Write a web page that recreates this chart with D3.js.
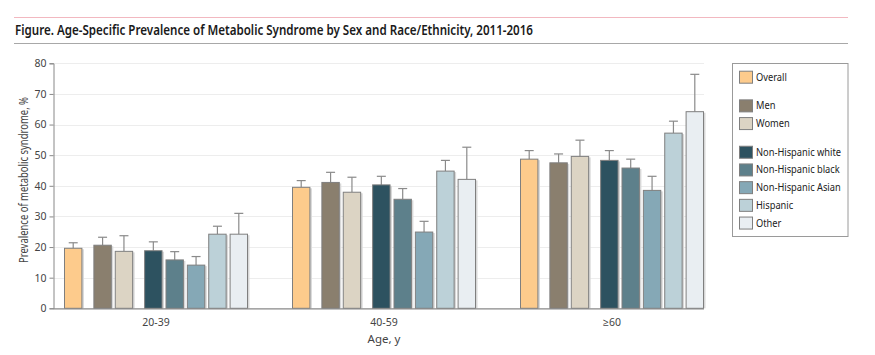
<!DOCTYPE html>
<html><head><meta charset="utf-8">
<script src="https://cdn.jsdelivr.net/npm/d3@7"></script>
<style>body{margin:0;background:#fff;} svg{display:block;}</style>
</head><body>
<script>
const groups = ["20-39", "40-59", "≥60"];
const series = ["Overall", "Men", "Women", "Non-Hispanic white", "Non-Hispanic black", "Non-Hispanic Asian", "Hispanic", "Other"];
const colors = ["#FDCB8C", "#8A7F6E", "#DCD4C4", "#2D5260", "#5D808B", "#85A8B6", "#BCD1D8", "#E9EEF2"];
// slot positions within group (extra gaps between subgroups)
const slots = [0, 1.375, 2.375, 3.75, 4.75, 5.75, 6.75, 7.75];
const legendSlots = [0, 1.62, 2.62, 4.24, 5.24, 6.24, 7.24, 8.24];
const values = {
  "20-39": [19.6, 20.6, 18.6, 18.8, 15.8, 14.1, 24.2, 24.2],
  "40-59": [39.5, 41.1, 37.9, 40.3, 35.6, 24.9, 44.8, 42.1],
  "≥60":   [48.7, 47.5, 49.6, 48.3, 45.8, 38.5, 57.2, 64.2]
};
const upper = {
  "20-39": [21.4, 23.2, 23.7, 21.7, 18.5, 16.9, 26.8, 31.0],
  "40-59": [41.7, 44.4, 42.8, 43.1, 39.1, 28.4, 48.3, 52.6],
  "≥60":   [51.5, 50.4, 54.9, 51.5, 48.7, 43.1, 61.1, 76.4]
};
const yTicks = [0, 10, 20, 30, 40, 50, 60, 70, 80];
const title = "Figure. Age-Specific Prevalence of Metabolic Syndrome by Sex and Race/Ethnicity, 2011-2016";
const yLabel = "Prevalence of metabolic syndrome, %";
const xLabel = "Age, y";

const W = 875, H = 355;
const font = "'Noto Sans', 'Open Sans', sans-serif";
const svg = d3.select("body").append("svg").attr("width", W).attr("height", H);

function condense(sel, factor) {
  sel.each(function() {
    const w = this.getComputedTextLength();
    d3.select(this).attr("textLength", w * factor).attr("lengthAdjust", "spacingAndGlyphs");
  });
}

// header
svg.append("line").attr("x1", 14).attr("x2", 848).attr("y1", 17.5).attr("y2", 17.5)
  .attr("stroke", "#F2B8C0").attr("stroke-width", 1.2);
svg.append("line").attr("x1", 14).attr("x2", 848).attr("y1", 43.5).attr("y2", 43.5)
  .attr("stroke", "#A8A8A8").attr("stroke-width", 1.2);
svg.append("text").attr("x", 15).attr("y", 35).text(title)
  .attr("font-family", font).attr("font-weight", 600).attr("font-size", 13.5)
  .attr("fill", "#1a1a1a").attr("textLength", 518).attr("lengthAdjust", "spacingAndGlyphs");

const plotL = 53.5, plotR = 704, y0 = 308.3, yTop = 63.3;
const y = d3.scaleLinear().domain([0, 80]).range([y0, yTop]);
const x0 = d3.scaleBand().domain(groups).range([64, 704]).paddingInner(0.193).paddingOuter(0);
const barW = 18.4;
const xi = d3.scaleLinear().domain([0, 7.75]).range([0, x0.bandwidth() - barW]);

// gridlines
svg.append("g").selectAll("line").data(yTicks.filter(d => d > 0)).join("line")
  .attr("x1", plotL).attr("x2", plotR)
  .attr("y1", d => Math.round(y(d)) + 0.5).attr("y2", d => Math.round(y(d)) + 0.5)
  .attr("stroke", "#EDEDED").attr("stroke-width", 1);

// y axis
const yAxis = svg.append("g").attr("transform", `translate(${plotL},0)`)
  .call(d3.axisLeft(y).tickValues(yTicks).tickSize(4).tickPadding(3));
yAxis.select(".domain").attr("stroke", "#888");
yAxis.selectAll(".tick line").attr("stroke", "#888");
yAxis.selectAll("text").attr("font-family", font).attr("font-size", 10.5).attr("fill", "#444");

// bars
const gG = svg.append("g").selectAll("g").data(groups).join("g")
  .attr("transform", d => `translate(${x0(d)},0)`);
gG.each(function(g) {
  const sel = d3.select(this);
  const data = series.map((s, i) => ({ s, i, v: values[g][i], u: upper[g][i] }));
  sel.selectAll("line.err").data(data).join("line").attr("class", "err")
    .attr("x1", d => xi(slots[d.i]) + barW / 2).attr("x2", d => xi(slots[d.i]) + barW / 2)
    .attr("y1", d => y(d.v)).attr("y2", d => y(d.u))
    .attr("stroke", "#8a8a8a").attr("stroke-width", 1.2);
  sel.selectAll("line.cap").data(data).join("line").attr("class", "cap")
    .attr("x1", d => xi(slots[d.i]) + barW / 2 - 4.5).attr("x2", d => xi(slots[d.i]) + barW / 2 + 4.5)
    .attr("y1", d => y(d.u)).attr("y2", d => y(d.u))
    .attr("stroke", "#8a8a8a").attr("stroke-width", 1.2);
  sel.selectAll("rect.sh").data(data).join("rect").attr("class", "sh")
    .attr("x", d => xi(slots[d.i]) + 1.5).attr("y", d => y(d.v) + 1)
    .attr("width", barW).attr("height", d => y0 - y(d.v) - 1)
    .attr("fill", "#d8d8d8");
  sel.selectAll("rect.bar").data(data).join("rect").attr("class", "bar")
    .attr("x", d => xi(slots[d.i]) + 0.5).attr("y", d => y(d.v))
    .attr("width", barW - 1).attr("height", d => y0 - y(d.v))
    .attr("fill", d => colors[d.i]).attr("stroke", "#7f7f7f").attr("stroke-width", 1);
});

// x axis
svg.append("line").attr("x1", plotL).attr("x2", plotR).attr("y1", y0 + 0.5).attr("y2", y0 + 0.5)
  .attr("stroke", "#888").attr("stroke-width", 1.2);
svg.append("g").selectAll("text").data(groups).join("text")
  .attr("x", d => x0(d) + x0.bandwidth() / 2).attr("y", 326)
  .attr("text-anchor", "middle").text(d => d)
  .attr("font-family", font).attr("font-size", 10.5).attr("fill", "#444");
svg.append("text").attr("x", x0("40-59") + x0.bandwidth() / 2).attr("y", 343)
  .attr("text-anchor", "middle").text(xLabel)
  .attr("font-family", font).attr("font-size", 11.5).attr("fill", "#444");
svg.append("text").attr("transform", "translate(28,180) rotate(-90)")
  .attr("text-anchor", "middle").text(yLabel)
  .attr("font-family", font).attr("font-size", 12).attr("fill", "#444")
  .attr("textLength", 166).attr("lengthAdjust", "spacingAndGlyphs");

// legend
svg.append("rect").attr("x", 732.5).attr("y", 63.5).attr("width", 115.5).attr("height", 173)
  .attr("fill", "#fff").attr("stroke", "#9a9a9a").attr("stroke-width", 1);
const ly = d3.scaleLinear().domain([0, 1]).range([76.7, 94.4]);
const lg = svg.append("g").selectAll("g").data(series).join("g")
  .attr("transform", (d, i) => `translate(739,${ly(legendSlots[i])})`);
lg.append("rect").attr("x", 0.5).attr("y", -5.5).attr("width", 13).attr("height", 12)
  .attr("fill", (d, i) => colors[i]).attr("stroke", "#7f7f7f").attr("stroke-width", 1);
const lt = lg.append("text").attr("x", 17).attr("y", 4).text(d => d)
  .attr("font-family", font).attr("font-size", 11).attr("fill", "#222");
let refW = 0;
lt.each(function(d) { if (d === "Non-Hispanic white") refW = this.getComputedTextLength(); });
condense(lt, refW ? 85 / refW : 1);
</script>
</body></html>
